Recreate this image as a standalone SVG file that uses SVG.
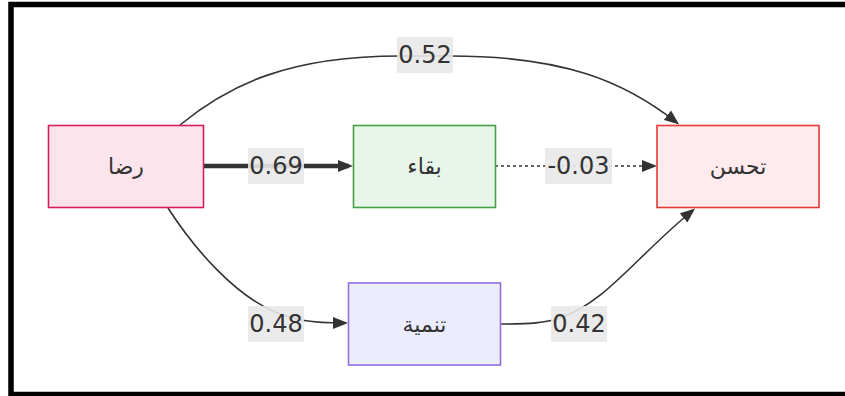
<svg xmlns="http://www.w3.org/2000/svg" width="845" height="396" viewBox="0 0 845 396">
<defs>
<style>
.node rect{stroke-width:1.6}
.node text{font-family:"DejaVu Sans","Noto Sans",sans-serif;font-size:22px;fill:#333;text-anchor:middle;dominant-baseline:central}
.edge{fill:none;stroke:#333;stroke-width:1.6}
.thick{stroke-width:4.5}
.dotted{stroke-dasharray:3 3}
.lbl rect{fill:#e8e8e8;opacity:0.9}
.lbl text{font-family:"DejaVu Sans","Noto Sans",sans-serif;font-size:24px;fill:#333;text-anchor:middle;dominant-baseline:central}
</style>
<marker id="arr" viewBox="0 0 15 12" refX="11" refY="6" markerWidth="15" markerHeight="12" markerUnits="userSpaceOnUse" orient="auto">
<path d="M0,0 L15,6 L0,12 z" fill="#333"/>
</marker>
</defs>
<rect x="0" y="0" width="845" height="396" fill="#fff"/>
<rect x="11" y="4.5" width="900" height="390" fill="none" stroke="#000" stroke-width="5.5"/>
<g id="connectors">
<path class="edge" d="M180,125 C230,84 290,56 400,56 L450,56 C565,56 625,82 676,122" marker-end="url(#arr)"/>
<path class="edge thick" d="M203,166 L349,166" marker-end="url(#arr)"/>
<path class="edge dotted" d="M495,166 L653,166" marker-end="url(#arr)"/>
<path class="edge" d="M168,208 C195,250 235,295 275,312 C295,320 310,323 344,323" marker-end="url(#arr)"/>
<path class="edge" d="M501,324 C530,324 545,323 560,318 C605,303 635,258 692,211" marker-end="url(#arr)"/>
<g class="lbl"><rect x="397" y="37" width="56" height="36"/><text x="425" y="55">0.52</text></g>
<g class="lbl"><rect x="248" y="148" width="56" height="36"/><text x="276" y="166">0.69</text></g>
<g class="lbl"><rect x="545" y="148" width="67" height="36"/><text x="578.5" y="166">-0.03</text></g>
<g class="lbl"><rect x="248" y="306" width="56" height="36"/><text x="276" y="324">0.48</text></g>
<g class="lbl"><rect x="551" y="306" width="56" height="36"/><text x="579" y="324">0.42</text></g>
</g>
<g id="rida" class="node"><rect x="48.5" y="125.5" width="155" height="82" fill="#fce4ec" stroke="#d81b60"/><text x="126" y="166">رضا</text></g>
<g id="baqa" class="node"><rect x="353.5" y="125.5" width="142" height="82" fill="#e8f5e9" stroke="#43a047"/><text x="424.5" y="166">بقاء</text></g>
<g id="tahassun" class="node"><rect x="657" y="125.5" width="162" height="82" fill="#ffebee" stroke="#e53935"/><text x="738" y="166">تحسن</text></g>
<g id="tanmiya" class="node"><rect x="348.5" y="283" width="152" height="82" fill="#ececff" stroke="#9370db"/><text x="424.5" y="324">تنمية</text></g>
</svg>
